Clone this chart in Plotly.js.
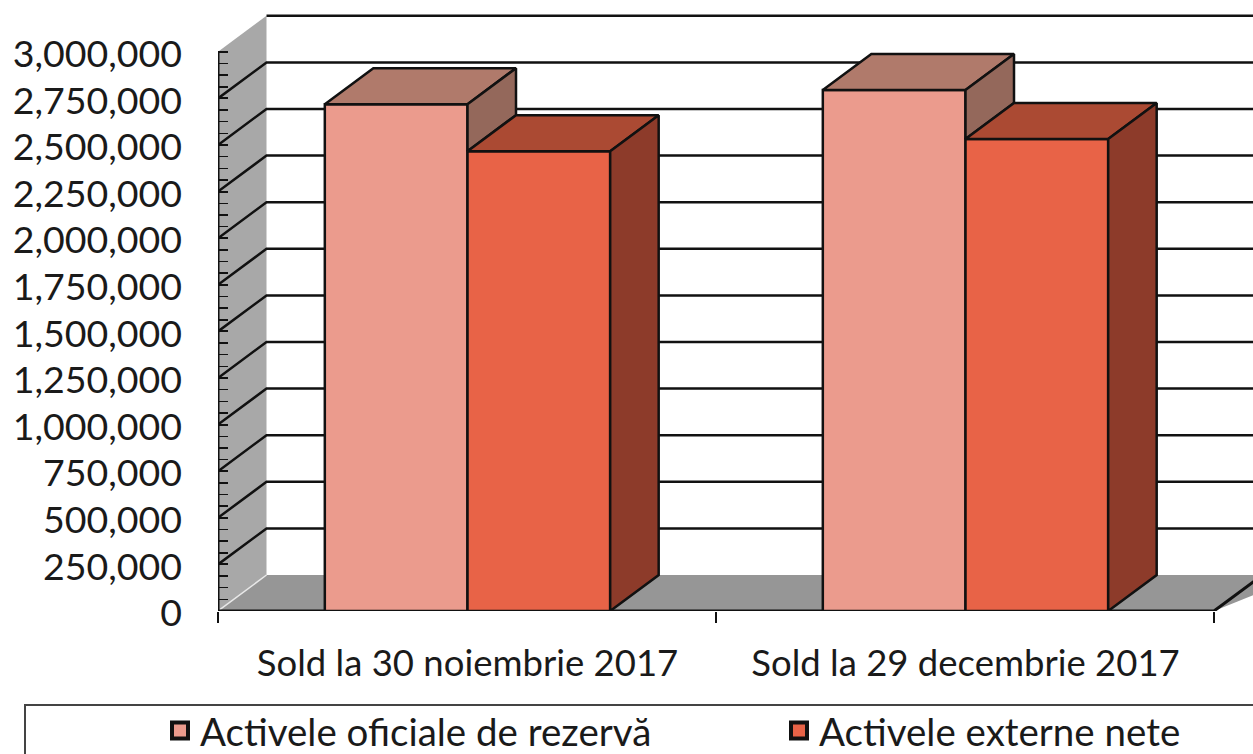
<!DOCTYPE html>
<html><head><meta charset="utf-8">
<script src="https://cdn.plot.ly/plotly-3.0.1.min.js"></script>
<style>html,body{margin:0;padding:0;background:#fff;overflow:hidden}</style>
</head><body><div id="chart" style="width:1253px;height:754px"></div>
<script>
const categories = ["Sold la 30 noiembrie 2017", "Sold la 29 decembrie 2017"];
const slots = [0.501, 1.501];
const seriesNames = ["Activele oficiale de rezervă", "Activele externe nete"];
const rezerva = [2719000, 2795000];
const externe = [2467000, 2532000];
const yTicks = [0,250000,500000,750000,1000000,1250000,1500000,1750000,2000000,2250000,2500000,2750000,3000000];

const FONT = "Lato, 'Open Sans', sans-serif";
const INK = "#111";
const plotH = 611;
const xMax = 1035/498, yMax = plotH/46.6*250000;
const depthX = 0.0974, depthY = 193000;   // 3D offset in axis units
const barW = 0.2865;
const frontCols = ["#eb9b8d", "#e86347"], topCols = ["#b07a6b", "#ab4a33"], sideCols = ["#94685b", "#8d3b2a"];

const traces = [];
function poly(xs, ys, color, lineW, sub) {
  traces.push({type:"scatter", mode:"lines", x:xs, y:ys, fill:"toself", fillcolor:color,
    line:{color:lineW? INK: color, width:lineW||0}, hoverinfo:"skip", showlegend:false,
    xaxis:sub?"x2":"x", yaxis:sub?"y2":"y"});
}
function path(xs, ys, color, w, sub) {
  traces.push({type:"scatter", mode:"lines", x:xs, y:ys, line:{color:color, width:w}, hoverinfo:"skip",
    showlegend:false, xaxis:sub?"x2":"x", yaxis:sub?"y2":"y"});
}
const top3 = yTicks[yTicks.length-1];
// side wall, floor
poly([0,depthX,depthX,0,0],[0,depthY,top3+depthY,top3,0],"#a8a8a8");
poly([0,depthX,xMax+0.1,2,0],[0,depthY,depthY,0,0],"#969696");
path([0,depthX],[0,depthY],"#e8e8e8",1.5);
// back-wall gridlines
const gx=[], gy=[];
yTicks.slice(1).forEach(v=>{
  if(v<top3){ gx.push(0,depthX,xMax+0.1,null); gy.push(v,v+depthY,v+depthY,null); }
  else { gx.push(depthX,xMax+0.1,null); gy.push(v+depthY,v+depthY,null); }
});
path(gx,gy,INK,2.5);
// axis lines
path([0,0],[0,top3],INK,3);
path([0,2,2+depthX],[0,0,depthY],INK,3);

// bars
[rezerva, externe].forEach((vals,s)=>{
  traces.push({type:"bar", name:seriesNames[s], x:slots, y:vals, showlegend:false,
    marker:{color:frontCols[s], line:{color:INK,width:2.5}}, xaxis:"x2", yaxis:"y2"});
});
// 3D faces
slots.forEach((c,i)=>{
  const x0=c-barW, x1=c, x2=c+barW, a=rezerva[i], b=externe[i];
  poly([x0,x0+depthX,x1+depthX,x1,x0],[a,a+depthY,a+depthY,a,a],topCols[0],2.5,true);
  poly([x1,x1+depthX,x1+depthX,x1,x1],[a,a+depthY,b+depthY,b,a],sideCols[0],2.5,true);
  poly([x1,x1+depthX,x2+depthX,x2,x1],[b,b+depthY,b+depthY,b,b],topCols[1],2.5,true);
  poly([x2,x2+depthX,x2+depthX,x2,x2],[b,b+depthY,depthY,0,b],sideCols[1],2.5,true);
});
// legend keys
seriesNames.forEach((n,s)=>{
  traces.push({type:"scatter", mode:"markers", name:n, x:[null], y:[null], showlegend:true,
    marker:{symbol:"square", size:16, color:frontCols[s], line:{color:INK,width:4}}, hoverinfo:"skip"});
});

const minorY=[]; 
for(let i=1;i<=48;i++){ if(i%4) minorY.push(i*62500); }

const layout = {
  width:1253, height:754, margin:{l:218,r:0,t:0,b:754-plotH,pad:0,autoexpand:false},
  paper_bgcolor:"#fff", plot_bgcolor:"#fff", showlegend:true,
  barmode:"group", bargap:1-2*barW, bargroupgap:0,
  font:{family:FONT,color:"#1a1a1a",size:36},
  xaxis:{range:[0,xMax], showgrid:false, zeroline:false, showline:false, tickmode:"array",
    tickvals:slots, ticktext:categories, ticks:"", ticklabelstandoff:27, tickangle:0,
    tickfont:{family:FONT,size:36.5,color:"#1a1a1a"},
    minor:{tickmode:"array",tickvals:[0,1,2],ticks:"outside",ticklen:11,tickwidth:1.5,tickcolor:INK,showgrid:false}},
  yaxis:{range:[0,yMax], showgrid:false, zeroline:false, showline:false, tickmode:"array",
    tickvals:yTicks, tickformat:",", ticks:"inside", ticklen:10, tickwidth:2, tickcolor:INK, ticklabelstandoff:35, ticklabelshift:2,
    tickfont:{family:FONT,size:37.5,color:"#1a1a1a"},
    minor:{tickmode:"array",tickvals:minorY,ticks:"inside",ticklen:10,tickwidth:1.5,tickcolor:INK,showgrid:false}},
  xaxis2:{range:[0,xMax], overlaying:"x", anchor:"y2", visible:false},
  yaxis2:{range:[0,yMax], overlaying:"y", anchor:"x2", visible:false},
  legend:{orientation:"h", x:(160-218)/1035, xanchor:"left", y:(plotH-699)/plotH, yanchor:"top",
    entrywidth:574, entrywidthmode:"pixels", bgcolor:"rgba(0,0,0,0)", borderwidth:0,
    font:{family:FONT,size:38.5,color:"#1a1a1a"}, itemclick:false, itemdoubleclick:false},
  shapes:[{type:"rect",xref:"paper",yref:"paper",x0:(25-218)/1035,x1:(1300-218)/1035,y0:(plotH-800)/plotH,y1:(plotH-705)/plotH,
    line:{color:"#444",width:2},fillcolor:"rgba(0,0,0,0)",layer:"below"}]
};
Plotly.newPlot("chart",traces,layout,{displayModeBar:false,staticPlot:true});
</script></body></html>
